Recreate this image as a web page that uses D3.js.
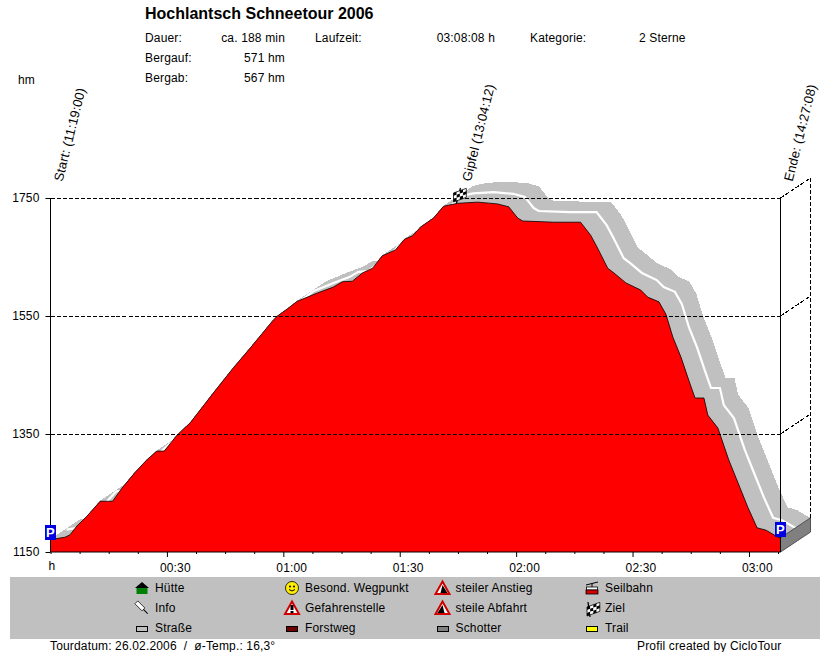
<!DOCTYPE html>
<html>
<head>
<meta charset="utf-8">
<script src="https://cdn.jsdelivr.net/npm/d3@7"></script>
<style>
    body { margin: 0; background: white; }
    svg { display: block; }
    text { font-family: "Liberation Sans", Arial, sans-serif; font-size: 12px; letter-spacing: 0.16px; fill: black; white-space: pre; }
</style>
</head>
<body>
<div id="viz"></div>
<script>
// Elevation profile: minutes since start / height in hm
const minutes = [0, 3.7, 5, 6.8, 9.3, 12.8, 16, 18.4, 21.8, 24.8, 27.4, 29.3, 32.6, 36, 41.9, 47.1, 51.5, 57.4, 58.5,
    61, 63.6, 68.8, 72.9, 75.2, 77.8, 80.4, 83, 85.5, 88.9, 91.2, 93.3, 95.4, 98.7, 101.3, 104.9, 110.1, 115.2, 118.1,
    120.4, 121.7, 129.7, 136.6, 139.2, 141, 143.6, 145.2, 148.3, 152.1, 153.9, 156.8, 158.6, 160.4, 162.5, 164.5,
    166.1, 168.4, 169.4, 172, 174.8, 177.2, 179.7, 182.1, 184.4, 187.5, 188.13];
const heights = [1171, 1175, 1179, 1194, 1210, 1236, 1236, 1258, 1285, 1306, 1321, 1321, 1348, 1369, 1419, 1462, 1496, 1543, 1550,
    1562, 1575, 1589, 1599, 1608, 1609, 1623, 1631, 1652, 1662, 1680, 1686, 1701, 1716, 1736, 1741, 1743, 1740, 1735,
    1716, 1711, 1709, 1709, 1687, 1665, 1631, 1623, 1606, 1594, 1582, 1574, 1553, 1514, 1480, 1441,
    1411, 1411, 1382, 1360, 1306, 1267, 1226, 1191, 1187, 1175, 1174];

const yTicks = [1150, 1350, 1550, 1750];
const xMajorTicks = [30, 60, 90, 120, 150, 180];
const xMajorLabels = ["00:30", "01:00", "01:30", "02:00", "02:30", "03:00"];
const xMinorTicks = [0, 7.5, 15, 22.5, 37.5, 45, 52.5, 67.5, 75, 82.5, 97.5, 105, 112.5, 127.5, 135, 142.5, 157.5, 165, 172.5, 187.5];

const title = "Hochlantsch Schneetour 2006";
const infoLabels = ["Dauer:", "Bergauf:", "Bergab:"];
const infoValues = ["ca. 188 min", "571 hm", "567 hm"];

const events = ["Start: (11:19:00)", "Gipfel (13:04:12)", "Ende: (14:27:08)"];
const eventMinutes = [0, 105.2, 188.13];

const legendNames = ["Hütte", "Info", "Straße", "Besond. Wegpunkt", "Gefahrenstelle", "Forstweg",
    "steiler Anstieg", "steile Abfahrt", "Schotter", "Seilbahn", "Ziel", "Trail"];

// Width and height of the figure
const width = 830;
const height = 652;

// Depth of the 3D ribbon behind the profile, in pixels
const depthX = 30;
const depthY = -20;

const x = d3.scaleLinear().domain([0, 188.13]).range([50.5, 780.5]);
const y = d3.scaleLinear().domain([1150, 1750]).range([552, 198]);

const profile = minutes.map((m, i) => [x(m), y(heights[i])]);

const svg = d3.select("#viz").append("svg")
    .attr("width", width)
    .attr("height", height);

// Ribbon: every profile segment swept backwards
const ribbon = svg.append("g").attr("shape-rendering", "crispEdges");
ribbon.selectAll("path")
    .data(d3.pairs(profile))
    .join("path")
    .attr("d", ([a, b]) => d3.line()([a, b, [b[0] + depthX, b[1] + depthY], [a[0] + depthX, a[1] + depthY]]) + "Z")
    .attr("fill", "#c0c0c0")
    .attr("stroke", "#c0c0c0")
    .attr("stroke-width", 1);

// White middle line of the ribbon
svg.append("path")
    .attr("d", d3.line()(profile.map(p => [p[0] + depthX / 2 + 1, p[1] + depthY / 2])))
    .attr("fill", "none")
    .attr("stroke", "white")
    .attr("stroke-width", 2.2);

// Side face at the end of the tour
const endX = x(188.13);
const endY = y(heights[heights.length - 1]);
svg.append("path")
    .attr("d", d3.line()([[endX, endY], [endX, y(1150)], [endX + depthX, y(1150) + depthY], [endX + depthX, endY + depthY]]) + "Z")
    .attr("fill", "#808080")
    .attr("stroke", "#505050");

// Red profile
const area = d3.area().x(d => d[0]).y0(y(1150)).y1(d => d[1]);
svg.append("path")
    .attr("d", area(profile))
    .attr("fill", "#ff0000");
svg.append("path")
    .attr("d", d3.line()(profile))
    .attr("fill", "none")
    .attr("stroke", "black")
    .attr("stroke-width", 0.8);

// Dashed grid, front and back wall
const grid = svg.append("g")
    .attr("stroke", "black")
    .attr("stroke-dasharray", "4,2")
    .attr("shape-rendering", "crispEdges");
yTicks.filter(t => t > 1150).forEach(t => {
    grid.append("line").attr("x1", x(0)).attr("x2", endX).attr("y1", y(t)).attr("y2", y(t));
    grid.append("line").attr("x1", endX).attr("x2", endX + depthX).attr("y1", y(t)).attr("y2", y(t) + depthY);
});
grid.append("line").attr("x1", endX + depthX).attr("x2", endX + depthX).attr("y1", y(1750) + depthY).attr("y2", endY + depthY);

// Axes
const yAxis = svg.append("g")
    .attr("transform", `translate(${x(0)},0)`)
    .call(d3.axisLeft(y).tickValues(yTicks).tickSize(5).tickPadding(6).tickFormat(d3.format("d")));
yAxis.select(".domain").attr("d", `M0,${y(1750)}V${y(1150)}`).attr("stroke", "black");

svg.append("line")
    .attr("x1", endX).attr("x2", endX)
    .attr("y1", y(1750)).attr("y2", y(1150))
    .attr("stroke", "black");

const xAxis = svg.append("g")
    .attr("transform", `translate(0,${y(1150)})`)
    .call(d3.axisBottom(x).tickValues(xMajorTicks).tickSize(5).tickPadding(6)
        .tickFormat((d, i) => xMajorLabels[i]));
xAxis.select(".domain").attr("d", `M${x(0)},0H${endX}`);
xAxis.selectAll("text")
    .attr("text-anchor", "start")
    .attr("dx", -7.5);

svg.append("g")
    .attr("transform", `translate(0,${y(1150)})`)
    .call(d3.axisBottom(x).tickValues(xMinorTicks).tickSize(2).tickFormat(""))
    .select(".domain").remove();

svg.append("text").attr("x", 48.5).attr("y", 570).text("h");
svg.append("text").attr("x", 18).attr("y", 84).text("hm");

// Header
svg.append("text").attr("x", 145).attr("y", 19)
    .style("font-size", "16px").style("font-weight", "bold").style("letter-spacing", "0").text(title);

const infoY = [42, 62, 82];
infoLabels.forEach((d, i) => {
    svg.append("text").attr("x", 145).attr("y", infoY[i]).text(d);
    svg.append("text").attr("x", 285).attr("y", infoY[i]).attr("text-anchor", "end").text(infoValues[i]);
});
svg.append("text").attr("x", 315).attr("y", infoY[0]).text("Laufzeit:");
svg.append("text").attr("x", 495).attr("y", infoY[0]).attr("text-anchor", "end").text("03:08:08 h");
svg.append("text").attr("x", 530).attr("y", infoY[0]).text("Kategorie:");
svg.append("text").attr("x", 639).attr("y", infoY[0]).text("2 Sterne");

// Slanted event labels
events.forEach((d, i) => {
    svg.append("text")
        .attr("transform", `translate(${x(eventMinutes[i]) + 12},182) rotate(-76)`)
        .style("font-size", "13px")
        .text(d);
});

// Small icons
const parking = (px, py) => {
    svg.append("rect").attr("x", px).attr("y", py).attr("width", 11).attr("height", 15).attr("fill", "#0000e0");
    svg.append("text").attr("x", px + 5.5).attr("y", py + 12).attr("text-anchor", "middle")
        .style("font-size", "13px").style("font-weight", "bold").style("fill", "white").text("P");
};
parking(45, 525);
parking(775, 522);

// topDx: how far the top of the pole leans sideways
const flag = (g, px, py, topDx) => {
    g.append("line").attr("x1", px - 3).attr("y1", py + 9).attr("x2", px - 3 + topDx).attr("y2", py - 6)
        .attr("stroke", "black").attr("stroke-width", 1.3);
    const f = g.append("g").attr("transform", `translate(${px - 6},${py - 1}) skewY(-20)`);
    d3.range(4).forEach(c => d3.range(3).forEach(r => {
        f.append("rect").attr("x", c * 3.2).attr("y", r * 3).attr("width", 3.2).attr("height", 3)
            .attr("fill", (c + r) % 2 ? "white" : "black");
    }));
    f.append("rect").attr("width", 12.8).attr("height", 9)
        .attr("fill", "none").attr("stroke", "black").attr("stroke-width", 0.7);
};
flag(svg, 459.5, 194, 4);

// Legend
svg.append("rect").attr("x", 10).attr("y", 577).attr("width", 810).attr("height", 62).attr("fill", "#c0c0c0");

const legendColumns = [155, 305, 455.5, 605];
const legendRows = [592, 612, 632];
legendNames.forEach((d, i) => {
    svg.append("text")
        .attr("x", legendColumns[Math.floor(i / 3)])
        .attr("y", legendRows[i % 3])
        .text(d);
});

const icon = (col, row) => svg.append("g")
    .attr("transform", `translate(${legendColumns[col] - 13},${legendRows[row] - 4})`);

const swatch = (col, row, colour) => icon(col, row).append("rect")
    .attr("x", -5.5).attr("y", -2).attr("width", 11).attr("height", 5)
    .attr("fill", colour).attr("stroke", "black")
    .attr("shape-rendering", "crispEdges");

const triangle = (g) => g.append("path").attr("d", "M0,-6.5L7,6H-7Z")
    .attr("fill", "white").attr("stroke", "#d00000").attr("stroke-width", 2);

// Hütte
const hut = icon(0, 0);
hut.append("rect").attr("x", -5.5).attr("y", -1).attr("width", 11).attr("height", 7).attr("fill", "#008000");
hut.append("path").attr("d", "M0,-6L7,0H-7Z").attr("fill", "black");

// Info pin
const pin = icon(0, 1).append("g").attr("transform", "rotate(45)");
pin.append("rect").attr("x", -8).attr("y", -2).attr("width", 10).attr("height", 4).attr("fill", "white").attr("stroke", "black").attr("stroke-width", 0.7);
pin.append("line").attr("x1", 2).attr("x2", 8).attr("y1", 0).attr("y2", 0).attr("stroke", "black");

swatch(0, 2, "#c0c0c0");

// Smiley
const smile = icon(1, 0);
smile.append("circle").attr("r", 6.5).attr("fill", "#ffee00").attr("stroke", "black").attr("stroke-width", 0.8);
smile.append("circle").attr("cx", -2).attr("cy", -1.5).attr("r", 1).attr("fill", "black");
smile.append("circle").attr("cx", 2).attr("cy", -1.5).attr("r", 1).attr("fill", "black");
smile.append("path").attr("d", "M-3,1.5Q0,4.5 3,1.5").attr("fill", "none").attr("stroke", "black");

// Gefahrenstelle
const danger = icon(1, 1);
triangle(danger);
danger.append("rect").attr("x", -1.5).attr("y", -3).attr("width", 3).attr("height", 5).attr("fill", "black");
danger.append("rect").attr("x", -1.5).attr("y", 3).attr("width", 3).attr("height", 2).attr("fill", "black");

swatch(1, 2, "#700000");

// Steep up and down
const steepUp = icon(2, 0);
triangle(steepUp);
steepUp.append("path").attr("d", "M-2,5L0,-3L5,5Z").attr("fill", "black");
const steepDown = icon(2, 1);
triangle(steepDown);
steepDown.append("path").attr("d", "M-5,5L0,-3L2,5Z").attr("fill", "black");

swatch(2, 2, "#808080");

// Seilbahn
const cable = icon(3, 0);
cable.append("line").attr("x1", -6).attr("x2", 6).attr("y1", -3).attr("y2", -6).attr("stroke", "black");
cable.append("line").attr("x1", 0).attr("x2", 0).attr("y1", -5).attr("y2", -1).attr("stroke", "black");
cable.append("rect").attr("x", -5.5).attr("y", -1).attr("width", 11).attr("height", 3).attr("fill", "white").attr("stroke", "black").attr("stroke-width", 0.8);
cable.append("rect").attr("x", -6).attr("y", 2).attr("width", 12).attr("height", 4).attr("fill", "#d00000").attr("stroke", "black").attr("stroke-width", 0.8);

flag(icon(3, 1), 1, 0, -2);

swatch(3, 2, "#ffff00");

// Footer
svg.append("text").attr("x", 50).attr("y", 650).text("Tourdatum: 26.02.2006  /  ø-Temp.: 16,3°");
svg.append("text").attr("x", 637).attr("y", 650).text("Profil created by CicloTour");
</script>
</body>
</html>
